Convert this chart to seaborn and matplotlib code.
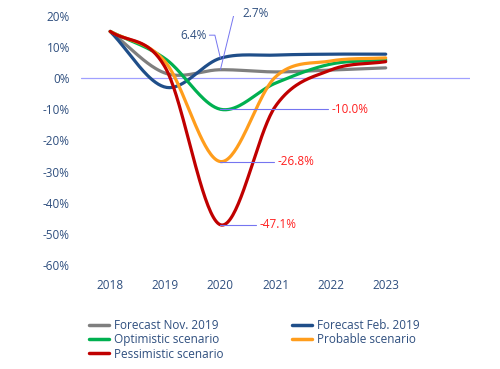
import matplotlib
matplotlib.use("Agg")
import matplotlib.pyplot as plt
import numpy as np
import pandas as pd
import seaborn as sns

# yearly values (%)
years = [2018, 2019, 2020, 2021, 2022, 2023]
forecast_nov_2019 = [15.0, 1.6, 2.7, 2.0, 2.6, 3.3]
forecast_feb_2019 = [15.0, -2.9, 6.4, 7.4, 7.7, 7.7]
optimistic = [15.0, 6.2, -10.0, -1.6, 4.5, 5.8]
probable = [15.0, 5.2, -26.8, 0.4, 5.5, 6.5]
pessimistic = [15.0, 3.4, -47.1, -9.0, 2.6, 5.3]

series_names = ['Forecast Nov. 2019', 'Optimistic scenario', 'Pessimistic scenario',
                'Forecast Feb. 2019', 'Probable scenario']
series_values = [forecast_nov_2019, optimistic, pessimistic, forecast_feb_2019, probable]
colors = ['#7f7f7f', '#00b050', '#c00000', '#1f4e89', '#ff9d1c']
draw_order = ['Forecast Nov. 2019', 'Forecast Feb. 2019', 'Optimistic scenario',
              'Probable scenario', 'Pessimistic scenario']

yticks = [20, 10, 0, -10, -20, -30, -40, -50, -60]
text_col = '#2f4f7f'
lead_col = '#7575f0'


def smooth(x, y, n=40):
    # spreadsheet-style smoothed line (Catmull-Rom through the yearly points)
    x = np.asarray(x, float)
    y = np.asarray(y, float)
    m = np.zeros_like(y)
    m[1:-1] = (y[2:] - y[:-2]) / 2
    m[0] = y[1] - y[0]
    m[-1] = y[-1] - y[-2]
    xs, ys = [], []
    for i in range(len(x) - 1):
        t = np.linspace(0, 1, n, endpoint=(i == len(x) - 2))
        h00 = 2 * t**3 - 3 * t**2 + 1
        h10 = t**3 - 2 * t**2 + t
        h01 = -2 * t**3 + 3 * t**2
        h11 = t**3 - t**2
        xs.append(x[i] + t * (x[i + 1] - x[i]))
        ys.append(h00 * y[i] + h10 * m[i] + h01 * y[i + 1] + h11 * m[i + 1])
    return np.concatenate(xs), np.concatenate(ys)


frames = []
for name, vals in zip(series_names, series_values):
    xs, ys = smooth(years, vals)
    frames.append(pd.DataFrame({'year': xs, 'value': ys, 'series': name}))
df = pd.concat(frames, ignore_index=True)
palette = dict(zip(series_names, colors))

sns.set_style('white')
plt.rcParams['font.family'] = ['Open Sans', 'DejaVu Sans']

fig = plt.figure(figsize=(5.0, 3.69), dpi=100)
ax = fig.add_axes([0.162, 0.282, 0.778, 0.675])

ax.axhline(0, color='#a0a0ff', lw=0.9, zorder=1)

for name in draw_order:
    sub = df[df['series'] == name]
    sns.lineplot(data=sub, x='year', y='value', color=palette[name], lw=2.3,
                 sort=False, estimator=None, ax=ax, zorder=3, label=name)

# leader lines and data labels
ax.plot([2020, 2020.25, 2020.35], [2.7, 20.8, 20.8], color=lead_col, lw=0.7, zorder=4)
ax.text(2020.4, 20.8, '2.7%', color=text_col, fontsize=8.5, va='center', ha='left')
ax.plot([2020, 2019.9, 2019.8], [6.4, 13.8, 13.8], color=lead_col, lw=0.7, zorder=4)
ax.text(2019.75, 13.8, '6.4%', color=text_col, fontsize=8.5, va='center', ha='right')

neg_labels = [(optimistic[2], 2021.95, '-10.0%'),
              (probable[2], 2020.98, '-26.8%'),
              (pessimistic[2], 2020.65, '-47.1%')]
for val, xend, lab in neg_labels:
    ax.plot([2020, xend], [val, val], color=lead_col, lw=0.8, zorder=4)
    ax.text(xend + 0.06, val, lab, color='#ff2020', fontsize=8.5, va='center', ha='left')

ax.set_xlim(2017.47, 2024.53)
ax.set_ylim(-60, 20)
ax.set_xticks(years)
ax.set_xticklabels([str(y) for y in years])
ax.set_yticks(yticks)
ax.set_yticklabels([f'{v}%' for v in yticks])
ax.tick_params(axis='both', length=0, labelsize=8.5, labelcolor=text_col)
ax.tick_params(axis='x', pad=10)
ax.tick_params(axis='y', pad=8)
ax.set_xlabel('')
ax.set_ylabel('')
sns.despine(ax=ax, left=True, bottom=True)

ax.get_legend().remove()
handles = {h.get_label(): h for h in ax.get_lines() if h.get_label() in series_names}
leg = fig.legend([handles[n] for n in series_names], series_names, ncol=2,
                 loc='upper left', bbox_to_anchor=(0.177, 0.135),
                 bbox_transform=fig.transFigure,
                 frameon=False, fontsize=8.5, handlelength=1.7, handletextpad=0.45,
                 labelspacing=0.1, columnspacing=5.8, borderaxespad=0, borderpad=0)
for t in leg.get_texts():
    t.set_color(text_col)
for line in leg.get_lines():
    line.set_linewidth(2.5)

fig.savefig('out.png', dpi=100)
